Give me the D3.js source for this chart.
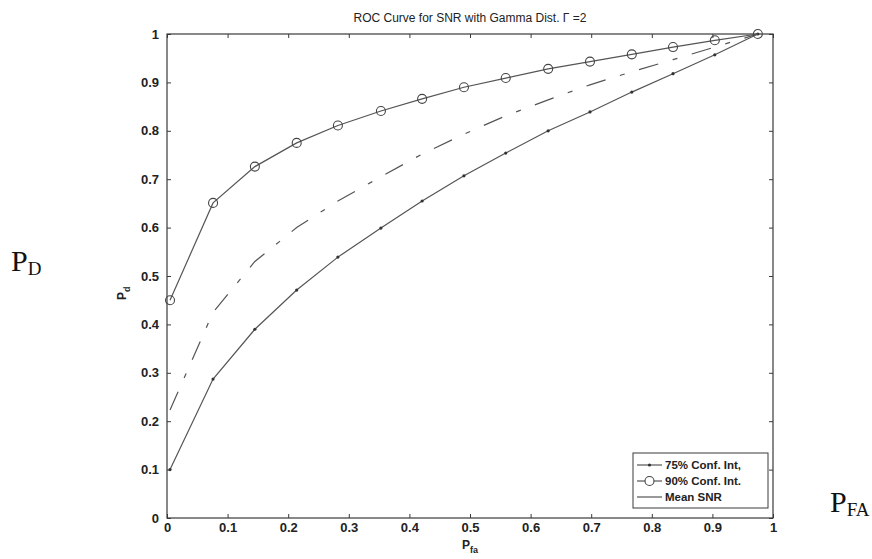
<!DOCTYPE html>
<html>
<head>
<meta charset="utf-8">
<script src="https://cdn.jsdelivr.net/npm/d3@7"></script>
<style>
  body { margin: 0; background: #fff; }
  text { font-family: "Liberation Sans", Arial, sans-serif; }
</style>
</head>
<body>
<script>
// data
var pfa    = [0.005, 0.076, 0.145, 0.214, 0.282, 0.353, 0.421, 0.490, 0.559, 0.629, 0.698, 0.767, 0.835, 0.904, 0.975];
var pd75   = [0.100, 0.287, 0.390, 0.471, 0.539, 0.599, 0.655, 0.707, 0.754, 0.800, 0.839, 0.880, 0.918, 0.957, 1.000];
var pd90   = [0.450, 0.651, 0.726, 0.775, 0.811, 0.841, 0.866, 0.890, 0.909, 0.928, 0.943, 0.958, 0.973, 0.987, 1.000];
var pdMean = [0.223, 0.425, 0.530, 0.600, 0.655, 0.705, 0.752, 0.793, 0.831, 0.864, 0.895, 0.922, 0.947, 0.973, 1.000];
var ticks  = [0, 0.1, 0.2, 0.3, 0.4, 0.5, 0.6, 0.7, 0.8, 0.9, 1];
var legendLabels = ["75% Conf. Int,", "90% Conf. Int.", "Mean SNR"];

var margin = {top: 34, right: 99, bottom: 41, left: 167},
    width = 872 - margin.left - margin.right,
    height = 559 - margin.top - margin.bottom;

var ink = "#3a3a3a";

let svg = d3.select('body').append('svg')
    .attr('width', 872)
    .attr('height', 559);

svg.append('rect').attr('width', 872).attr('height', 559).attr('fill', '#fff');

let g = svg.append('g')
    .attr('transform', 'translate(' + margin.left + ',' + margin.top + ')');

var x = d3.scaleLinear().domain([0, 1]).range([0, width]);
var y = d3.scaleLinear().domain([0, 1]).range([height, 0]);

var fmt = function(d) { return d === 0 || d === 1 ? d3.format('d')(d) : d3.format('.1f')(d); };

// axes, MATLAB style: ticks inside, box all round
function styleAxis(sel) {
    sel.select('.domain').remove();
    sel.selectAll('line').attr('stroke', ink);
    sel.selectAll('text')
        .attr('fill', '#222')
        .style('font-size', '13px')
        .style('font-weight', 'bold');
}
g.append('g').attr('transform', 'translate(0,' + height + ')')
    .call(d3.axisBottom(x).tickValues(ticks).tickFormat(fmt).tickSizeInner(-4).tickPadding(5))
    .call(styleAxis);
g.append('g')
    .call(d3.axisLeft(y).tickValues(ticks).tickFormat(fmt).tickSizeInner(-4).tickPadding(8))
    .call(styleAxis);
g.append('g')
    .call(d3.axisTop(x).tickValues(ticks).tickFormat('').tickSizeInner(-4))
    .call(styleAxis);
g.append('g').attr('transform', 'translate(' + width + ',0)')
    .call(d3.axisRight(y).tickValues(ticks).tickFormat('').tickSizeInner(-4))
    .call(styleAxis);

g.append('rect')
    .attr('width', width).attr('height', height)
    .attr('fill', 'none').attr('stroke', ink).attr('stroke-width', 1.2);

var line = d3.line()
    .x(function(d, i) { return x(pfa[i]); })
    .y(function(d) { return y(d); });

// mean SNR, dash-dot
g.append('path').datum(pdMean)
    .attr('d', line)
    .attr('fill', 'none').attr('stroke', '#555').attr('stroke-width', 1.2)
    .attr('stroke-dasharray', '20,15,5,15');

// 75% curve with dot markers
g.append('path').datum(pd75)
    .attr('d', line)
    .attr('fill', 'none').attr('stroke', '#555').attr('stroke-width', 1.2);
g.selectAll('.dot75').data(pd75).enter().append('circle')
    .attr('cx', function(d, i) { return x(pfa[i]); })
    .attr('cy', function(d) { return y(d); })
    .attr('r', 1.6)
    .attr('fill', '#333');

// 90% curve with open circles
g.append('path').datum(pd90)
    .attr('d', line)
    .attr('fill', 'none').attr('stroke', '#555').attr('stroke-width', 1.2);
g.selectAll('.dot90').data(pd90).enter().append('circle')
    .attr('cx', function(d, i) { return x(pfa[i]); })
    .attr('cy', function(d) { return y(d); })
    .attr('r', 4.5)
    .attr('fill', 'none')
    .attr('stroke', '#444').attr('stroke-width', 1.1);

// legend box, bottom right
var lg = g.append('g').attr('transform', 'translate(' + (width - 140) + ',' + (height - 65) + ')');
lg.append('rect')
    .attr('width', 135).attr('height', 55)
    .attr('fill', '#fff').attr('stroke', ink).attr('stroke-width', 1);
legendLabels.forEach(function(lbl, i) {
    var yy = 12 + i * 16;
    lg.append('line').attr('x1', 4).attr('x2', 29).attr('y1', yy).attr('y2', yy)
        .attr('stroke', '#555').attr('stroke-width', 1.2);
    if (i === 0) lg.append('circle').attr('cx', 16.5).attr('cy', yy).attr('r', 1.6).attr('fill', '#333');
    if (i === 1) lg.append('circle').attr('cx', 16.5).attr('cy', yy).attr('r', 4.5)
        .attr('fill', '#fff').attr('stroke', '#444').attr('stroke-width', 1.1);
    lg.append('text')
        .attr('x', 32).attr('y', yy + 4)
        .attr('fill', '#222')
        .style('font-size', '11.5px').style('font-weight', 'bold')
        .text(lbl);
});

// title
svg.append('text')
    .attr('x', margin.left + width / 2).attr('y', 22)
    .attr('text-anchor', 'middle')
    .attr('fill', '#222')
    .style('font-size', '12px')
    .text('ROC Curve for SNR with Gamma Dist. \u0393 =2');

// axis labels P_fa and P_d
var xl = svg.append('text')
    .attr('x', margin.left + width / 2 - 8).attr('y', 549)
    .attr('fill', '#222').style('font-size', '12px').style('font-weight', 'bold');
xl.append('tspan').text('P');
xl.append('tspan').attr('dy', 4).style('font-size', '9px').text('fa');

var yl = svg.append('text')
    .attr('transform', 'translate(126, 300)rotate(-90)')
    .attr('fill', '#222').style('font-size', '12px').style('font-weight', 'bold');
yl.append('tspan').text('P');
yl.append('tspan').attr('dy', 4).style('font-size', '9px').text('d');

// hand-added annotations beside the plot
var pdNote = svg.append('text')
    .attr('x', 11).attr('y', 271)
    .attr('fill', '#111')
    .style('font-family', '"Liberation Serif", "Times New Roman", serif')
    .style('font-size', '30px');
pdNote.append('tspan').text('P');
pdNote.append('tspan').attr('dy', 4).style('font-size', '19px').text('D');

var pfaNote = svg.append('text')
    .attr('x', 830).attr('y', 512)
    .attr('fill', '#111')
    .style('font-family', '"Liberation Serif", "Times New Roman", serif')
    .style('font-size', '30px');
pfaNote.append('tspan').text('P');
pfaNote.append('tspan').attr('dy', 4).style('font-size', '19px').text('FA');
</script>
</body>
</html>
